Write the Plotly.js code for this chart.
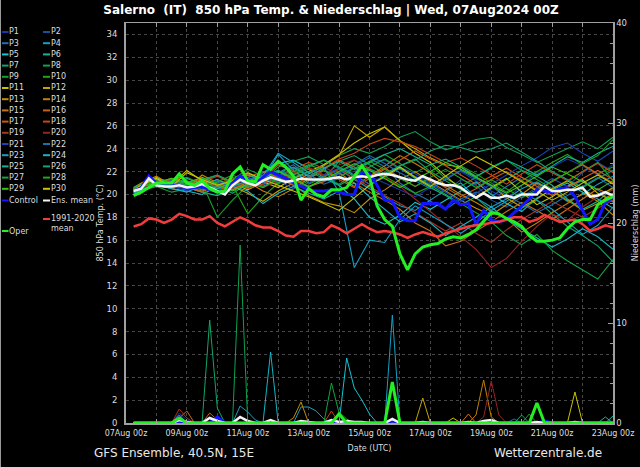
<!DOCTYPE html>
<html><head><meta charset="utf-8">
<script src="https://cdn.plot.ly/plotly-3.0.1.min.js"></script>
<style>html,body{margin:0;padding:0;background:#000;}#chart{width:640px;height:467px;}</style>
</head><body><div id="chart"></div>
<script>
// ---- time axes (6-hourly for main lines & precipitation, 12-hourly for ensemble members) ----
const T6 = ['2024-08-07 06:00','2024-08-07 12:00','2024-08-07 18:00',
'2024-08-08 00:00','2024-08-08 06:00','2024-08-08 12:00','2024-08-08 18:00',
'2024-08-09 00:00','2024-08-09 06:00','2024-08-09 12:00','2024-08-09 18:00',
'2024-08-10 00:00','2024-08-10 06:00','2024-08-10 12:00','2024-08-10 18:00',
'2024-08-11 00:00','2024-08-11 06:00','2024-08-11 12:00','2024-08-11 18:00',
'2024-08-12 00:00','2024-08-12 06:00','2024-08-12 12:00','2024-08-12 18:00',
'2024-08-13 00:00','2024-08-13 06:00','2024-08-13 12:00','2024-08-13 18:00',
'2024-08-14 00:00','2024-08-14 06:00','2024-08-14 12:00','2024-08-14 18:00',
'2024-08-15 00:00','2024-08-15 06:00','2024-08-15 12:00','2024-08-15 18:00',
'2024-08-16 00:00','2024-08-16 06:00','2024-08-16 12:00','2024-08-16 18:00',
'2024-08-17 00:00','2024-08-17 06:00','2024-08-17 12:00','2024-08-17 18:00',
'2024-08-18 00:00','2024-08-18 06:00','2024-08-18 12:00','2024-08-18 18:00',
'2024-08-19 00:00','2024-08-19 06:00','2024-08-19 12:00','2024-08-19 18:00',
'2024-08-20 00:00','2024-08-20 06:00','2024-08-20 12:00','2024-08-20 18:00',
'2024-08-21 00:00','2024-08-21 06:00','2024-08-21 12:00','2024-08-21 18:00',
'2024-08-22 00:00','2024-08-22 06:00','2024-08-22 12:00','2024-08-22 18:00',
'2024-08-23 00:00'];
const T12 = ['2024-08-07 06:00','2024-08-07 12:00',
'2024-08-08 00:00','2024-08-08 12:00','2024-08-09 00:00','2024-08-09 12:00',
'2024-08-10 00:00','2024-08-10 12:00','2024-08-11 00:00','2024-08-11 12:00',
'2024-08-12 00:00','2024-08-12 12:00','2024-08-13 00:00','2024-08-13 12:00',
'2024-08-14 00:00','2024-08-14 12:00','2024-08-15 00:00','2024-08-15 12:00',
'2024-08-16 00:00','2024-08-16 12:00','2024-08-17 00:00','2024-08-17 12:00',
'2024-08-18 00:00','2024-08-18 12:00','2024-08-19 00:00','2024-08-19 12:00',
'2024-08-20 00:00','2024-08-20 12:00','2024-08-21 00:00','2024-08-21 12:00',
'2024-08-22 00:00','2024-08-22 12:00','2024-08-23 00:00'];

// ---- main lines, 850 hPa temperature (°C) ----
const climMean = [17.2,17.4,17.9,17.8,17.5,17.8,18.3,18.1, 17.8,17.8,18.1,17.5,17.2,17.6,18.0,17.7, 17.3,17.1,17.1,16.8,16.4,16.3,16.8,16.8, 16.6,16.7,17.3,17.0,16.6,17.0,17.4,17.0, 16.7,16.8,16.7,16.5,16.2,16.5,16.7,16.5, 16.3,16.6,16.8,17.0,17.2,17.3,17.4,17.5, 17.6,17.8,18.0,18.0,17.6,17.8,18.2,17.9, 17.6,17.7,17.8,17.4,16.8,17.0,17.3,17.1];
const ensMean = [20.3,20.5,21.4,20.8,20.7,20.7,20.8,20.6, 20.7,20.9,20.6,20.3,20.0,20.8,21.3,21.0, 20.8,21.2,21.5,21.3,21.1,21.2,21.4,21.3, 21.3,21.3,21.4,21.5,21.3,21.5,21.6,21.5, 21.7,21.8,21.7,21.5,21.3,21.2,21.6,21.3, 21.0,20.8,20.8,20.6,20.1,19.7,20.1,19.7, 19.7,19.9,19.7,20.0,20.0,20.0,20.7,20.3, 20.3,20.4,20.4,20.6,19.8,19.9,20.2,19.9];
const control = [20.3,20.6,21.6,21.0,20.9,20.8,20.8,20.5, 20.6,20.7,20.4,20.3,20.3,21.0,21.6,21.3, 20.9,21.5,22.0,21.7,21.4,21.0,20.7,20.4, 20.3,20.3,20.4,20.2,20.0,20.0,21.9,21.8, 20.8,19.5,19.4,18.0,17.7,17.7,19.2,19.2, 19.2,18.7,19.5,19.1,19.2,17.4,18.6,17.8, 17.6,17.8,18.4,19.0,19.6,20.4,20.3,20.2, 20.5,20.6,19.8,18.6,17.4,17.8,19.3,19.7];
const oper = [19.9,20.2,20.6,21.0,21.0,21.0,21.8,21.0, 20.8,21.2,20.5,20.2,20.3,21.8,22.4,21.2, 21.1,22.6,22.2,22.9,22.4,21.6,19.5,20.5, 20.0,19.8,20.4,20.4,20.6,21.5,22.5,21.5, 19.0,17.8,17.2,14.8,13.4,14.8,15.4,15.6, 15.7,16.1,16.3,16.2,16.5,16.9,17.7,18.4, 18.3,17.9,17.6,17.2,16.4,15.9,15.9,16.0, 16.2,17.0,17.6,17.8,17.8,19.1,19.5,19.8];

// ---- main lines, precipitation (mm) ----
const ensMeanRain = [0,0,0,0,0,0,0.3,0.1, 0,0,0.5,0.2,0,0,0.6,0.2, 0,0,0.3,0,0,0,0.2,0.1, 0,0,0.3,0.1,0.2,0.1,0.1,0, 0,0,0.4,0,0,0,0.1,0, 0,0,0,0,0.1,0,0.2,0.3, 0,0,0,0,0,0.1,0,0, 0,0,0.1,0,0,0,0,0];
const controlRain = [0,0,0,0,0,0,0,0, 0,0,0,0.6,0,0,0,0, 0,0,0,0,0,0,0,0, 0,0,0,0,0,0,0,0, 0,0,0.2,0,0,0,0,0, 0,0,0,0,0,0,0,0, 0,0,0,0,0,0,0.2,0, 0,0,0,0,0,0,0,0];
const operRain = [0,0,0,0,0,0,0.5,0, 0,0,0,0,0,0,0,0, 0,0,0,0,0,0,0,0, 0,0,0,0.9,0,0,0,0, 0,0,4.1,0,0,0,0,0, 0,0,0,0,0,0,0,0, 0,0,0,0,0,2.0,0,0, 0,0,0,0,0,0,0,0];

// ---- ensemble members, 850 hPa temperature (°C), 12-hourly ----
const tP1 = [20.2,20.5,20.9,20.6,20.8,20.5,20.2,20.9,21.3,20.8,21.6,21.0,20.7,21.2,21.8,22.3,21.6,21.0,20.4,19.8,20.6,21.5,22.0,21.2,20.3,19.6,20.8,21.9,22.4,23.1,22.5,21.7,22.6];
const tP2 = [20.4,20.7,21.2,20.9,20.4,21.0,20.6,20.3,21.0,21.5,22.0,21.4,21.8,22.4,21.7,22.0,22.8,23.0,22.2,21.6,20.9,20.2,21.3,20.8,19.5,18.9,19.8,20.6,21.4,20.7,21.9,22.8,22.0];
const tP3 = [20.3,20.8,21.0,21.2,20.9,20.7,21.1,20.4,21.4,21.0,21.9,22.6,21.5,20.9,21.4,22.5,23.2,22.4,21.0,20.1,19.4,18.7,19.6,20.2,19.8,20.7,21.5,20.9,19.9,20.6,21.2,20.4,19.3];
const tP4 = [20.5,20.6,21.3,20.8,21.1,20.9,20.5,20.8,21.7,21.3,23.5,22.1,21.0,21.6,22.2,21.3,20.5,19.8,19.0,18.6,19.5,20.4,21.0,19.7,18.9,19.6,20.5,21.1,20.3,19.4,20.0,20.9,21.6];
const tP5 = [20.1,20.4,20.8,20.5,20.3,20.0,20.7,21.0,20.6,21.9,22.7,23.0,22.3,21.5,20.8,19.6,18.0,17.4,18.2,19.3,18.7,19.5,20.3,21.1,20.0,19.2,18.5,19.7,20.4,21.0,20.2,19.6,18.8];
const tP6 = [20.3,20.9,21.4,21.1,20.6,20.2,19.9,20.5,21.1,20.7,21.3,21.8,22.5,23.0,22.4,21.7,20.9,21.5,22.3,21.4,20.6,19.9,19.1,19.8,20.5,21.3,22.1,21.6,20.8,19.6,18.7,19.4,20.6];
const tP7 = [20.2,20.6,21.1,20.7,21.0,21.4,20.8,20.1,20.9,21.6,22.1,21.3,20.6,21.4,22.9,23.4,22.6,21.8,22.5,23.1,22.0,21.2,20.4,19.7,18.6,17.9,18.8,19.5,18.3,17.2,16.4,15.5,14.1];
const tP8 = [20.4,20.5,20.8,20.9,20.6,21.3,21.7,21.1,20.7,21.2,22.4,22.9,23.3,22.6,23.4,24.0,23.6,24.2,25.0,25.5,24.6,23.9,24.3,24.8,25.0,24.1,23.5,22.8,23.4,24.0,24.6,24.0,25.0];
const tP9 = [20.0,20.3,20.7,20.2,20.5,21.0,18.0,19.5,20.8,21.3,20.9,21.7,22.2,21.6,20.9,21.8,22.9,23.5,22.7,21.9,22.6,21.4,20.7,21.5,22.4,23.0,22.1,21.3,20.5,21.1,22.0,22.8,21.2];
const tP10 = [20.2,20.6,21.0,21.2,21.5,20.9,20.3,20.8,18.3,19.8,21.0,21.6,20.9,21.5,22.3,23.0,22.2,21.6,20.8,20.1,20.7,21.6,22.5,21.8,21.0,20.2,21.2,22.0,22.8,23.5,22.6,21.8,22.4];
const tP11 = [20.5,20.8,21.5,20.9,22.1,21.2,20.6,21.0,20.4,21.1,20.6,21.4,22.0,22.6,23.5,24.5,25.3,25.9,24.7,23.6,22.8,21.6,20.5,19.8,20.6,21.4,20.2,19.1,19.8,20.7,21.3,20.1,19.4];
const tP12 = [20.3,20.7,21.2,20.6,21.0,20.8,21.3,20.7,20.1,19.4,20.3,21.0,21.8,22.5,23.4,26.0,25.0,25.9,24.7,24.0,23.2,22.6,22.4,21.5,20.8,19.7,18.9,19.6,20.5,21.2,20.4,19.8,20.6];
const tP13 = [20.4,20.9,21.0,21.4,20.7,20.3,20.8,21.3,20.6,21.1,21.7,20.8,19.9,19.3,19.0,18.4,19.6,20.4,21.3,22.0,21.1,20.3,19.5,18.8,18.2,19.1,20.0,21.0,20.3,19.5,18.6,19.2,20.1];
const tP14 = [20.6,21.0,21.6,20.8,20.5,21.7,21.0,20.4,21.1,20.3,19.8,20.5,21.4,22.1,21.5,20.7,21.6,22.5,23.4,22.7,21.9,20.8,20.0,19.3,18.5,17.9,16.7,17.5,18.4,19.2,20.1,19.4,18.2];
const tP15 = [20.3,20.6,21.1,20.5,20.9,21.3,20.7,21.2,21.8,21.4,22.0,21.3,20.7,21.1,21.9,21.0,20.2,19.5,18.7,17.5,16.8,15.5,15.9,16.8,17.6,18.5,19.3,18.6,17.8,18.7,19.6,20.5,19.8];
const tP16 = [20.2,20.8,20.7,21.0,20.6,20.2,20.9,21.5,20.8,21.3,22.6,22.0,21.4,22.2,23.0,22.4,21.6,22.3,21.5,20.7,21.4,20.6,19.8,20.5,21.3,22.0,21.2,20.4,21.1,21.9,22.6,21.8,21.0];
const tP17 = [20.4,20.7,21.3,20.9,21.2,20.7,20.3,20.9,21.5,22.0,21.4,20.8,21.5,22.1,21.3,20.6,21.4,22.2,23.0,23.8,23.1,22.5,21.7,20.9,21.6,22.3,21.5,20.7,19.9,20.6,21.4,22.1,21.3];
const tP18 = [20.3,20.5,20.9,21.3,20.8,21.1,21.6,21.0,20.5,20.9,21.5,22.2,22.8,22.3,23.1,23.6,24.4,24.9,24.6,24.2,23.5,22.8,23.2,22.5,21.7,20.9,21.8,22.6,21.9,21.2,22.0,22.7,21.9];
const tP19 = [20.5,20.8,21.2,20.6,21.0,21.5,20.9,20.5,21.2,21.7,21.1,21.8,22.3,21.6,22.2,21.4,20.7,19.9,19.2,18.4,17.6,16.8,17.5,16.6,15.8,16.9,17.8,18.6,19.4,18.7,18.0,18.8,19.5];
const tP20 = [20.2,20.6,20.8,21.1,20.7,20.4,20.9,21.4,21.0,20.6,21.2,21.9,22.4,21.7,22.6,23.0,22.3,21.5,20.7,19.6,18.5,17.4,16.3,15.2,13.6,14.4,15.9,17.2,18.3,17.7,18.9,19.8,20.4];
const tP21 = [20.4,20.6,21.1,20.7,20.3,20.8,21.2,20.6,21.3,21.8,21.2,20.5,21.0,21.7,22.3,21.6,20.9,21.7,22.4,21.8,21.0,20.2,19.4,20.1,20.9,21.7,22.5,23.2,24.1,24.5,23.6,22.9,23.8];
const tP22 = [20.3,20.7,21.0,21.2,20.8,21.1,20.6,20.9,21.5,21.0,21.6,22.3,21.7,21.1,21.9,22.6,23.4,22.7,21.9,21.2,20.5,21.3,22.1,21.4,20.7,19.9,19.2,18.4,19.1,19.9,20.7,21.5,20.6];
const tP23 = [20.6,20.9,21.4,20.8,21.1,20.6,20.2,20.7,21.2,21.6,23.6,22.8,21.9,22.4,20.2,13.6,16.0,15.8,17.8,19.0,18.2,17.4,16.6,17.5,18.6,19.4,20.2,19.5,18.7,17.6,16.5,17.3,18.9];
const tP24 = [20.1,20.4,20.9,20.5,20.2,20.8,21.3,20.7,20.3,19.2,20.1,20.7,20.1,19.6,20.3,21.0,19.8,18.7,17.6,18.3,17.5,16.4,17.2,18.0,18.9,17.8,17.0,16.2,15.4,16.1,17.0,16.3,15.2];
const tP25 = [20.4,20.8,21.3,20.9,21.4,20.9,20.5,21.1,21.7,21.2,21.9,22.4,21.6,22.3,22.9,22.2,22.8,23.5,24.0,23.3,22.6,23.1,22.4,21.6,22.3,23.0,22.4,21.7,22.5,23.3,22.8,23.6,24.2];
const tP26 = [20.3,20.5,20.7,21.0,20.6,21.2,21.7,21.0,20.6,21.4,22.1,21.5,22.0,21.4,20.8,21.5,22.2,21.7,22.5,23.0,23.8,24.3,24.1,23.7,24.0,24.5,23.7,22.9,22.0,21.3,20.6,21.4,22.1];
const tP27 = [20.2,20.6,21.1,20.6,20.9,20.4,20.8,21.3,22.2,21.6,21.0,21.7,22.4,23.0,22.3,21.6,22.4,23.1,22.3,21.5,20.8,20.0,19.2,18.4,17.6,16.4,15.6,16.5,15.1,14.2,13.4,12.6,14.3];
const tP28 = [20.5,20.9,21.2,20.8,21.2,20.7,21.1,21.7,21.1,20.6,21.4,22.0,22.6,22.1,21.5,22.3,22.9,22.2,21.4,20.7,21.5,22.2,21.4,20.6,21.3,20.5,19.7,20.4,21.2,21.9,22.7,23.4,24.8];
const tP29 = [20.3,20.7,21.0,21.4,21.0,21.5,20.9,20.3,20.9,21.5,22.0,21.4,20.7,21.3,22.0,22.7,22.1,21.4,20.6,21.3,22.0,22.8,22.2,21.5,20.8,20.1,20.8,21.6,22.4,21.8,21.1,20.4,21.2];
const tP30 = [20.4,20.8,21.4,20.7,21.9,21.3,20.8,21.2,21.9,21.3,20.8,20.3,19.8,19.2,18.6,19.7,20.8,21.6,22.4,21.5,20.7,21.6,22.5,23.3,22.6,21.9,21.1,20.3,19.5,20.2,21.0,21.7,20.9];

// ---- ensemble members, precipitation (mm), 6-hourly ----
const rP1  = [0,0,0,0,0,0,1.0,0.3, 0,0,0,0.6,0,0,0,0, 0,0,0,0,0,0,0,0, 0,0,0,0,0,0,0,0, 0,0,0,0,0,0,0,0, 0,0,0,0,0,0,0,0, 0,0,0,0,0,0,0,0, 0,0,0,0,0,0,0,0];
const rP2  = [0,0,0,0,0,0,0,0, 0,0,0,0,0,0,0,0, 0,0,0,0,0,0,0,0, 0,0,0,0,0,0,0,0, 0,0,0,0,0,0,0,0, 0,0,0,0,0,0,0,0, 0,0,0,0,0,0,0,0, 0,0,0,0,0,0,0,0];
const rP3  = [0,0,0,0,0,0,0,0, 0,0,0,0,0,0,0,0, 0,0,0,0,0,0,0,0, 0,0,0,0,0,0,0,0, 0,0,0,0,0,0,0,0, 0,0,0,0,0,0,0,0, 0,0,0,0,0,0,0,0, 0,0,0,0,0,0,0,0];
const rP4  = [0,0,0,0,0,0,0,0, 0,0,0,0,0,0,0,0, 0,0,0,0,0,0,1.6,1.6, 1.2,0.4,0,0,0,0,0,0, 0,0,10.8,0,0,0,0,0, 0,0,0,0,0,0,0,0, 0,0,0,0,0,0,0,0, 0,0,0,0,0,0,0,0];
const rP5  = [0,0,0,0,0,0,0,0, 0,0,0,0,0,0,0,0, 0,0,0,0,0,0,0,0, 0,0,0,0,6.5,3.5,2.3,0.9, 0,0,0,0,0,0,0,0, 0,0,0,0,0,0,0,0, 0,0,0,0,0,0,0,0, 0,0,0,0,0,0,0,0];
const rP6  = [0,0,0,0,0,0,0,0, 0,0,0,0,0,0,0,0, 0,0,0,0,0,0,0,0, 0,0,0,0,0,0,0,0, 0,0,0,0,0,0,0,0, 0,0,0,0,0,0,0,0, 0,0,0,0,0,0,0,0, 0,0,0,0,0,0,0,0.7];
const rP7  = [0,0,0,0,0,0,0,0, 0,0,10.3,1.5,0,0,0,0, 0,0,0,0,0,0,0,0, 0,0,0,0,0,0,0,0, 0,0,0,0,0,0,0,0, 0,0,0,0,0,0,0,0, 0,0,0,0,0,0,0,0, 0,0,0,0,0,0,0,0];
const rP8  = [0,0,0,0,0,0,0,0, 0,0,0,0,0,0,17.8,0, 0,0,0,0,0,0,0,0, 0,0,0,0,0,0,0,0, 0,0,0,0,0,0,0,0, 0,0,0,0,0,0,0,0, 0,0,0,0,0,0,0,0, 0,0,0,0,0,0,0,0];
const rP9  = [0,0,0,0,0,0,0,0, 0,0,0,0,0,0,0,0, 0,0,0,0,0,0,0,0, 0,0,0,0,0,0,0,0, 0,0,0,0,0,0,0,0, 0,0,0,0,0,0,0,0, 0,0,0,0,0.9,0,0,0, 0,0,0,0,0,0,0,0];
const rP10 = [0,0,0,0,0,0,0,0, 0,0,0,0,0,0,0,0, 0,0,0,0,0,0,0,0, 0,0,0,0.8,0,0,0,0, 0,0,0,0,0,0,0,0, 0,0,0,0,0,0,0,0, 0,0,0,0,0,0,0,0, 0,0,0,0,0,0,0,0];
const rP11 = [0,0,0,0,0,0,0,0, 0,0,0,0,0,0,0,0, 0,0,0,0,0,0,0,0, 0,0,0,0,0,0,0,0, 0,0,0,0,0,0,0,0, 0,0,0,0,0,0,0,0, 0,0,0,0,0,0,0,0, 0,0,3.1,0,0,0,0,0];
const rP12 = [0,0,0,0,0,0,0,0, 0,0,0,0,0,0,0,0, 0,0,0,0,0,0,0,0, 0,0,0,0,0,0,0,0, 0,0,0,0,0,0,2.5,0, 0,0,0,0,0,0,0,0, 0,0,0,0,0,0,0,0, 0,0,0,0,0,0,0,0];
const rP13 = [0,0,0,0,0,0,0,0, 0,0,0,0,0,0,0,0, 0,0,0,0,0,0.5,2.1,0, 0,0,0,0,0,0,0,0, 0,0,0,0,0,0,0,0, 0,0,0,0,0,0,0,0, 0,0,0,0,0,0,0,0, 0,0,0,0,0,0,0,0];
const rP14 = [0,0,0,0,0,0,0,0, 0,0,0,0,0,0,0,0, 0,0,0,0,0,0,0,0, 0,0,0,0,0,0,0,0, 0,0,0,0,0,0,0,0, 0,0,0,0,0,0.8,4.3,0.6, 0,0,0,0,0,0,0,0, 0,0,0,0,0,0,0,0];
const rP15 = [0,0,0,0,0,0,0.5,1.2, 0,0,0,0,0,0,0,0, 0,0,0,0,0,0,0,0, 0,0,0,0,0,0,0,0, 0,0,0,0,0,0,0,0, 0,0,0,0,0.9,0,0,0, 0,0,0,0,0,0,0,0, 0,0,0,0,0,0,0,0];
const rP16 = [0,0,0,0,0,0,0,0, 0,0,1.0,0.3,0,0,0,0, 0,0,0,0,0,0,0,0, 0,0,0,0,0,0,0,0, 0,0,0,0,0,0,0,0, 0,0,0,0,0,0,0,0, 0,0,0,0,0,0,0,0, 0,0,0,0,0,0,0,0];
const rP17 = [0,0,0,0,0,0,0.8,0, 0,0,0,0,0,0,0,0, 0,0,0,0,0,0,0,0, 0,0,0,0,0,0,0,0, 0,0,0,0,0,0,0,0, 0,0,0,0,0,0,0,0, 0,0,0,0,0,0,0,0, 0,0,0,0,0,0,0,0];
const rP18 = [0,0,0,0,0,0,0,0, 0,0,0,0,0,0,0,0, 0,0,0,0,0,0,0,0, 0,0,1.2,0,0,0,0,0, 0,0,0,0,0,0,0,0, 0,0,0,0,0,0,0,0, 0,0,0,0,0,0,0,0, 0,0,0,0,0,0,0,0];
const rP19 = [0,0,0,0,0,0,1.4,0.5, 0,0,0,0,0,0,0,0, 0,0,0,0,0,0,0,0, 0,0,0,0,0,0,0,0, 0,0,0,0,0,0,0,0, 0,0,0,0,0,0,0,0, 0,0,0,0,0,0,0,0, 0,0,0,0,0,0,0,0];
const rP20 = [0,0,0,0,0,0,0,0, 0,0,0,0,0,0,0,0, 0,0,0,0,0,0,0,0, 0,0,0,0,0,0,0,0, 0,0,0,0,0,0,0,0, 0,0,0,0,0,0,0.6,4.2, 0.8,0,0,0,0,0,0,0, 0,0,0,0,0,0,0,0];
const rP21 = [0,0,0,0,0,0,0,0, 0,0,0,0,0,0,0,0, 0,0,0,0,0,0,0,0, 0,0,0,0,0,0,0,0, 0,0,0,0,0,0,0,0, 0,0,0,0,0,0,0,0, 0,0,0,0,0,0,0,0, 0,0,0,0,0,0,0,0];
const rP22 = [0,0,0,0,0,0,0.8,0, 0,0,0,0,0,0,0,0, 0,0,0,0,0,0,0,0, 0,0,0,0,0,0,0,0, 0,0,0,0,0,0,0,0, 0,0,0,0,0,0,0,0, 0,0,0.4,0,0,0,0,0, 0,0,0,0,0,0,0,0];
const rP23 = [0,0,0,0,0,0,0,0, 0,0,0,0,0,0,1.7,1.1, 0.3,0,0,0,0,0,0,0, 0,0,0,0,0,0,0,0, 0,0,0,0,0,0,0,0, 0,0,0,0,0,0,0,0, 0,0,0,0,0,0,0,0, 0,0,0,0,0,0,0,0];
const rP24 = [0,0,0,0,0,0,0,0, 0,0,0,0,0,0,0,0, 0,0,7.1,0,0,0,0,0, 0,0,0,0,0,0,0,0, 0,0,0,0,0,0,0,0, 0,0,0,0,0,0,0,0, 0,0,0,0,0,0,0,0, 0,0,0,0,0,0,0,0];
const rP25 = [0,0,0,0,0,0,0,0, 0,0,0,0,0,0,0,0, 0,0,0,0,0,0,0,0, 0,0,0,0,0,0,0,0, 0,0,0,0,0,0,0,0, 0,0,0,0,0,0,0,0, 0,0,0,0,0,0,0,0, 0,0,0,0,0,0,0.6,0];
const rP26 = [0,0,0,0,0,0,0,0, 0,0,0,0,0,0,0,0, 0,0,0,0,0,0,0,0, 0,0,0,0,0,0,0,0, 0,0,0,0,0,0,0,0, 0,0,0,0,0,0,0,0, 0,0,0,0.8,0,0,0,0, 0,0,0,0,0,0,0,0];
const rP27 = [0,0,0,0,0,0,0,0, 0,0,0,0,0,0,0,0, 0,0,0,0,0,0,0,0, 0,0,4.0,1.0,0,0,0,0, 0,0,0,0,0,0,0,0, 0,0,0,0,0,0,0,0, 0,0,0,0,0,0,0,0, 0,0,0,0,0,0,0,0];
const rP28 = [0,0,0,0,0,0,0,0, 0,0,0,0,0,0,0,0, 0,0,0,0,0,0,0,0, 0,0,0,1.1,0.4,0,0,0, 0,0,0,0,0,0,0,0, 0,0,0,0,0,0,0,0, 0,0,0,0,0,0,0,0, 0,0,0,0,0,0,0,0];
const rP29 = [0,0,0,0,0,0,0,0, 0,0,0,0,0,0,0,0, 0,0,0,0,0,0,0,0, 0,0,0,0,0,0,0,0, 0,0,0,0,0,0,0,0, 0,0,0,0,0,0,0,0, 0,0,0,0,0,0,0,0, 0,0,0,0,0,0,0,0];
const rP30 = [0,0,0,0,0,0,0,0, 0,0,0,0,0,0,0,0, 0,0,0,0,0,0,0,0, 0,0,0,0,0,0,0,0, 0,0,0,0,0,0,0,0, 0,0,0.5,0,0,0,0,0, 0,0,0,0,0,0,0,0, 0,0,0,0,0,0,0,0];

const memberNames = ['P1','P2','P3','P4','P5','P6','P7','P8','P9','P10','P11','P12','P13','P14','P15','P16','P17','P18','P19','P20','P21','P22','P23','P24','P25','P26','P27','P28','P29','P30'];
const memberColors = ['#1a34b0','#1c4c9c','#1a72b4','#14a0c4','#14c4d4','#12b494','#12a468','#10a050','#12a42a','#22a414',
  '#c8c400','#c4a400','#c49000','#c48000','#c87014','#c86014','#d05414','#c84414','#a83424','#942424',
  '#1a44b8','#1a72b4','#14a0c4','#14b4c4','#12b494','#12a474','#12a444','#22a422','#34c414','#c8c400'];
const memberTemps = [tP1,tP2,tP3,tP4,tP5,tP6,tP7,tP8,tP9,tP10,tP11,tP12,tP13,tP14,tP15,tP16,tP17,tP18,tP19,tP20,tP21,tP22,tP23,tP24,tP25,tP26,tP27,tP28,tP29,tP30];
const memberRain = [rP1,rP2,rP3,rP4,rP5,rP6,rP7,rP8,rP9,rP10,rP11,rP12,rP13,rP14,rP15,rP16,rP17,rP18,rP19,rP20,rP21,rP22,rP23,rP24,rP25,rP26,rP27,rP28,rP29,rP30];

const COL = {control:'#1414ff', mean:'#f4f4f4', clim:'#f43c3c', oper:'#22f022'};

// ---- traces ----
const traces = [];
memberNames.forEach((n,i)=>{
  traces.push({x:T6, y:memberRain[i], yaxis:'y2', type:'scatter', mode:'lines', name:n+' rain', line:{color:memberColors[i], width:1}, hoverinfo:'skip'});
});
memberNames.forEach((n,i)=>{
  traces.push({x:T12, y:memberTemps[i], type:'scatter', mode:'lines', name:n, line:{color:memberColors[i], width:1.1}, hoverinfo:'skip'});
});
traces.push({x:T6, y:control, type:'scatter', mode:'lines', name:'Control', line:{color:COL.control, width:3}});
traces.push({x:T6, y:controlRain, yaxis:'y2', type:'scatter', mode:'lines', name:'Control rain', line:{color:COL.control, width:3}});
traces.push({x:T6, y:ensMean, type:'scatter', mode:'lines', name:'Ens. mean', line:{color:COL.mean, width:2.5}});
traces.push({x:T6, y:ensMeanRain, yaxis:'y2', type:'scatter', mode:'lines', name:'Ens. mean rain', line:{color:COL.mean, width:2.5}});
traces.push({x:T6, y:climMean, type:'scatter', mode:'lines', name:'1991-2020 mean', line:{color:COL.clim, width:2.5}});
traces.push({x:T6, y:oper, type:'scatter', mode:'lines', name:'Oper', line:{color:COL.oper, width:3}});
traces.push({x:T6, y:operRain, yaxis:'y2', type:'scatter', mode:'lines', name:'Oper rain', line:{color:COL.oper, width:3}});

// ---- manual two-column legend (pixel -> paper) ----
const PL=126, PR=613, PT=23, PB=423;
const lx = px => (px-PL)/(PR-PL);
const ly = py => (PB-py)/(PB-PT);
const shapes = [];
const annotations = [];
const legFont = {family:'DejaVu Sans', size:8, color:'#dddddd'};
function legItem(col, py, color, text){
  const x0 = col===0 ? 2 : 43, x1 = col===0 ? 8.5 : 50;
  shapes.push({type:'line', xref:'paper', yref:'paper', x0:lx(x0), x1:lx(x1), y0:ly(py), y1:ly(py), line:{color:color, width:2}});
  annotations.push({xref:'paper', yref:'paper', x:lx(x1-0.5), y:ly(py), xanchor:'left', yanchor:'middle', text:text, showarrow:false, font:legFont, align:'left', borderpad:0});
}
memberNames.forEach((n,i)=>{
  const row = Math.floor(i/2), col = i%2;
  legItem(col, 32 + row*11.2, memberColors[i], n);
});
legItem(0, 200.5, COL.control, 'Control');
legItem(1, 200.5, COL.mean, 'Ens. mean');
legItem(1, 219, COL.clim, '1991-2020<br>mean');
legItem(0, 231, COL.oper, 'Oper');
annotations[annotations.length-2].yanchor = 'top';
annotations[annotations.length-2].y = ly(213);

// image border on the left
shapes.push({type:'line', xref:'paper', yref:'paper', x0:lx(0.5), x1:lx(0.5), y0:ly(0), y1:ly(467), line:{color:'#9a9a9a', width:1}});

annotations.push({xref:'paper', yref:'paper', x:lx(174), y:ly(453), xanchor:'center', yanchor:'middle', text:'GFS Ensemble, 40.5N, 15E', showarrow:false, font:{family:'DejaVu Sans', size:12, color:'#e8e8e8'}});
annotations.push({xref:'paper', yref:'paper', x:lx(548), y:ly(453), xanchor:'center', yanchor:'middle', text:'Wetterzentrale.de', showarrow:false, font:{family:'DejaVu Sans', size:12, color:'#e8e8e8'}});

const GRID = '#474747', LINE = '#a0a0a0';
const layout = {
  width:640, height:467,
  paper_bgcolor:'#000', plot_bgcolor:'#000',
  margin:{l:PL, r:640-PR, t:PT, b:467-PB, pad:0},
  showlegend:false,
  font:{family:'DejaVu Sans', size:8, color:'#dddddd'},
  title:{text:'<b>Salerno\u00a0 (IT)\u00a0 850 hPa Temp. & Niederschlag | Wed, 07Aug2024 00Z</b>', font:{family:'DejaVu Sans', size:12, color:'#ffffff'},
         xref:'container', yref:'container', x:331/640, xanchor:'center', y:1-10/467, yanchor:'middle'},
  xaxis:{type:'date', range:['2024-08-07 00:00','2024-08-23 00:00'], tick0:'2024-08-07 00:00', dtick:172800000,
         tickformat:'%d%b %Hz', tickfont:{family:'DejaVu Sans', size:8, color:'#dddddd'}, ticklabelstandoff:2,
         ticks:'inside', ticklen:4, tickcolor:LINE, showline:true, linecolor:LINE, linewidth:1.5, mirror:'ticks',
         showgrid:true, gridcolor:GRID, griddash:'3px,3px', gridwidth:1, zeroline:false,
         minor:{tick0:'2024-08-07 00:00', dtick:86400000, ticks:'inside', ticklen:4, tickcolor:LINE, showgrid:true, gridcolor:GRID, griddash:'3px,3px', gridwidth:1},
         title:{text:'Date (UTC)', font:{family:'DejaVu Sans', size:8, color:'#dddddd'}, standoff:8},
         fixedrange:true},
  yaxis:{range:[0,35], tick0:0, dtick:2, showgrid:true, gridcolor:GRID, griddash:'3px,3px', gridwidth:1,
         showline:true, linecolor:LINE, linewidth:2, ticks:'', zeroline:false, ticklabelstandoff:5,
         tickfont:{family:'DejaVu Sans', size:8.5, color:'#dddddd'},
         title:{text:'850 hPa Temp. (°C)', font:{family:'DejaVu Sans', size:8, color:'#dddddd'}, standoff:2},
         fixedrange:true},
  yaxis2:{overlaying:'y', side:'right', range:[0,40], tick0:0, dtick:10, showgrid:false, zeroline:false,
          showline:true, linecolor:LINE, linewidth:1.5, ticks:'inside', ticklen:5, tickcolor:LINE,
          minor:{dtick:2, ticks:'inside', ticklen:3, tickcolor:LINE},
          tickfont:{family:'DejaVu Sans', size:8.5, color:'#dddddd'},
          title:{text:'Niederschlag (mm)', font:{family:'DejaVu Sans', size:8, color:'#dddddd'}, standoff:10},
          fixedrange:true},
  shapes:shapes, annotations:annotations
};

Plotly.newPlot('chart', traces, layout, {staticPlot:true, displayModeBar:false});
</script>
</body></html>
